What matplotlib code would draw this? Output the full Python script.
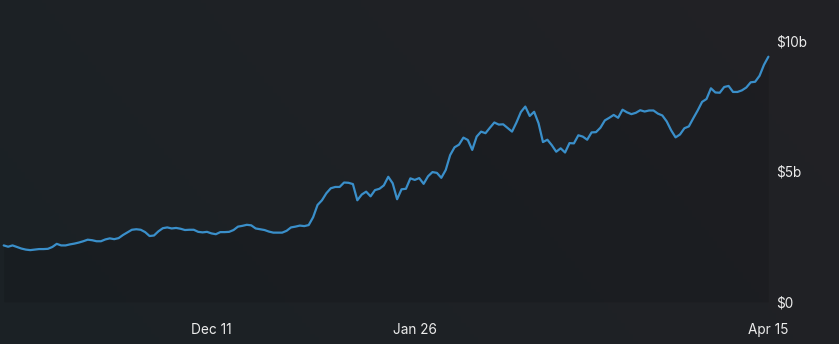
"""
Cumulative value line chart, dark theme, y axis on the right.
"""

import numpy as np
import pandas as pd
import matplotlib
matplotlib.use("Agg")
import matplotlib.pyplot as plt
import matplotlib.dates as mdates
from matplotlib.ticker import FixedLocator, FuncFormatter

plt.rcParams["font.family"] = ["Inter", "DejaVu Sans"]

# ── Data (billions USD, one value per day) ────────────────────────────────────

start_date = "2023-10-25"
values = [
    2.16, 2.11, 2.16, 2.10, 2.04, 2.00, 1.98, 2.00, 2.02, 2.02,
    2.03, 2.10, 2.22, 2.16, 2.16, 2.20, 2.23, 2.27, 2.32, 2.38,
    2.36, 2.32, 2.32, 2.39, 2.43, 2.40, 2.44, 2.56, 2.66, 2.76,
    2.78, 2.76, 2.67, 2.52, 2.54, 2.70, 2.82, 2.85, 2.81, 2.83,
    2.80, 2.75, 2.76, 2.76, 2.68, 2.66, 2.68, 2.62, 2.59, 2.67,
    2.67, 2.68, 2.75, 2.88, 2.91, 2.95, 2.93, 2.81, 2.78, 2.75,
    2.69, 2.65, 2.65, 2.65, 2.72, 2.85, 2.88, 2.92, 2.90, 2.94,
    3.24, 3.71, 3.89, 4.16, 4.35, 4.40, 4.40, 4.57, 4.56, 4.51,
    3.89, 4.11, 4.22, 4.04, 4.28, 4.33, 4.46, 4.79, 4.54, 3.93,
    4.31, 4.33, 4.73, 4.67, 4.74, 4.52, 4.81, 4.97, 4.94, 4.75,
    5.05, 5.62, 5.92, 6.02, 6.29, 6.20, 5.82, 6.33, 6.52, 6.46,
    6.67, 6.87, 6.79, 6.80, 6.66, 6.52, 6.87, 7.27, 7.48, 7.12,
    7.28, 6.84, 6.12, 6.21, 6.00, 5.75, 5.88, 5.72, 6.08, 6.07,
    6.38, 6.33, 6.21, 6.49, 6.50, 6.67, 6.95, 7.05, 7.16, 7.05,
    7.36, 7.26, 7.19, 7.24, 7.34, 7.29, 7.33, 7.33, 7.21, 7.14,
    6.91, 6.57, 6.30, 6.41, 6.65, 6.72, 7.03, 7.33, 7.66, 7.77,
    8.18, 8.02, 8.01, 8.23, 8.27, 8.04, 8.04, 8.10, 8.21, 8.41,
    8.43, 8.66, 9.08, 9.39,
]

x_ticks = ["2023-12-11", "2024-01-26", "2024-04-15"]
y_ticks = [0, 5, 10]

dates = pd.date_range(start_date, periods=len(values), freq="D")
vals = np.array(values)

# ── Figure ────────────────────────────────────────────────────────────────────

W, H = 839, 344
fig = plt.figure(figsize=(W / 100, H / 100), dpi=100)

# subtle diagonal background gradient
bg = fig.add_axes([0, 0, 1, 1], zorder=-10)
gx, gy = np.meshgrid(np.linspace(0, 1, 200), np.linspace(0, 1, 100))
t = np.clip(0.75 * gx + 0.25 * (1 - gy), 0, 1)
c0 = np.array([0x1b, 0x21, 0x25]) / 255
c1 = np.array([0x22, 0x22, 0x26]) / 255
img = c0[None, None, :] * (1 - t[..., None]) + c1[None, None, :] * t[..., None]
bg.imshow(img, aspect="auto", extent=[0, 1, 0, 1], origin="upper")
bg.axis("off")

left, right = 3.7 / W, 768.4 / W
bottom, top = (H - 301.8) / H, (H - 40.8) / H
ax = fig.add_axes([left, bottom, right - left, top - bottom])
ax.set_facecolor("none")

ax.fill_between(dates, 0, vals, color="black", alpha=0.10, linewidth=0)
ax.plot(dates, vals, color="#3a8fca", linewidth=1.6, solid_capstyle="round",
        solid_joinstyle="round", clip_on=False)

ax.set_xlim(dates[0], dates[-1])
ax.set_ylim(0, 10)

ax.xaxis.set_major_locator(FixedLocator(mdates.date2num(pd.to_datetime(x_ticks))))
ax.xaxis.set_major_formatter(mdates.DateFormatter("%b %-d"))
ax.yaxis.set_major_locator(FixedLocator(y_ticks))
ax.yaxis.set_major_formatter(FuncFormatter(lambda v, _: "$0" if v == 0 else f"${v:.0f}b"))
ax.yaxis.tick_right()

ax.tick_params(axis="x", length=0, pad=15, labelsize=9.8, labelcolor="#ececec")
ax.tick_params(axis="y", length=0, pad=5.5, labelsize=9.8, labelcolor="#ececec")
for lbl in ax.get_yticklabels():
    lbl.set_horizontalalignment("left")

for s in ax.spines.values():
    s.set_visible(False)

fig.savefig("out.png", dpi=100, facecolor="#1f2125")
